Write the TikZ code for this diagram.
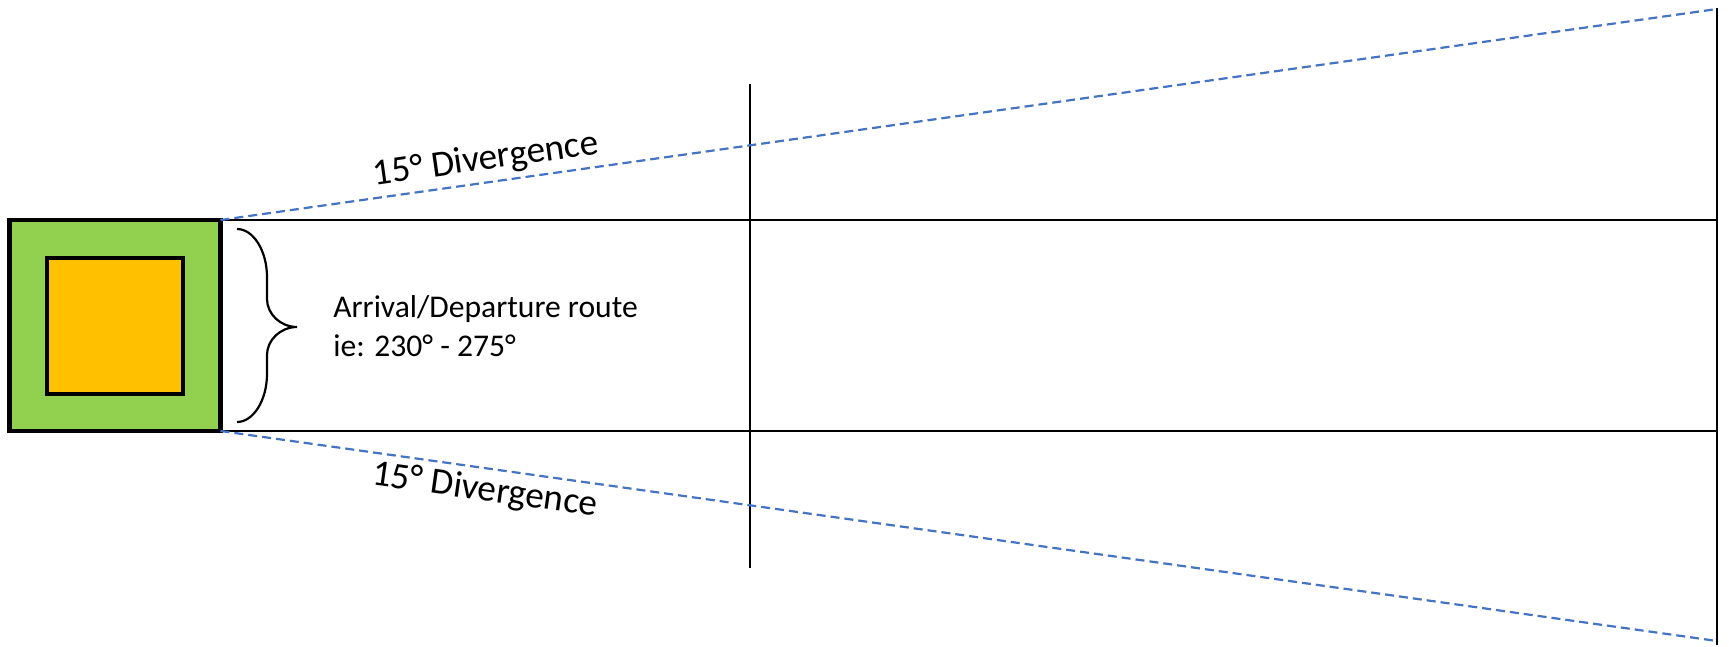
\documentclass[tikz,border=0pt]{standalone}
\usepackage{fontspec}
\setmainfont{Carlito}
\definecolor{padgreen}{HTML}{92D050}
\definecolor{padorange}{HTML}{FFC000}
\definecolor{divblue}{HTML}{4472C4}
\begin{document}
\begin{tikzpicture}[x=0.5pt,y=-0.5pt,
  thinline/.style={line width=1.1pt, black},
  divline/.style={line width=1.1pt, divblue, dash pattern=on 4.5pt off 2.5pt},
  sqbox/.style={draw=black, line width=2.25pt, rectangle, outer sep=0pt, inner sep=0pt},
  routetext/.style={font=\fontsize{15.8}{19.5}\selectfont, inner sep=0pt, anchor=base west},
  divtext/.style={font=\fontsize{18.6}{22}\selectfont, inner sep=0pt}
]
\useasboundingbox (0,0) rectangle (1729,647);
% squares
\node[sqbox, fill=padgreen, minimum width=105.5pt, minimum height=105.5pt] (base) at (115,325.5) {};
\node[sqbox, fill=padorange, minimum width=68pt, minimum height=68pt] (pad) at (115,326) {};
% right edge coordinates
\coordinate (rtop) at (1717,8);
\coordinate (rbot) at (1717,645);
\coordinate (rA) at (1717,220);
\coordinate (rB) at (1717,431);
\coordinate (dA) at (1717,9);
\coordinate (dB) at (1717,641);
\coordinate (mtop) at (750,84);
\coordinate (mbot) at (750,568);
% lines
\draw[thinline] (base.north east) -- (rA);
\draw[thinline] (base.south east) -- (rB);
\draw[thinline] (rtop) -- (rbot);
\draw[thinline] (mtop) -- (mbot);
\draw[divline] (base.north east) -- (dA);
\draw[divline] (base.south east) -- (dB);
% brace
\draw[thinline] (237,229) .. controls (253.5,229) and (267,251) .. (267,277)
  -- (267,299) .. controls (267,314) and (280.5,327) .. (297,327)
  .. controls (280.5,327) and (267,340) .. (267,355)
  -- (267,374) .. controls (267,400) and (253.5,422) .. (237,422);
% texts
\node[routetext] (route1) at (333,317) {Arrival/Departure route};
\node[routetext] (route2) at (333,356) {ie: 230° - 275°};
\node[divtext, rotate=8] (divup) at (486,160) {15° Divergence};
\node[divtext, rotate=-8] (divdown) at (485,491) {15° Divergence};
\end{tikzpicture}
\end{document}
